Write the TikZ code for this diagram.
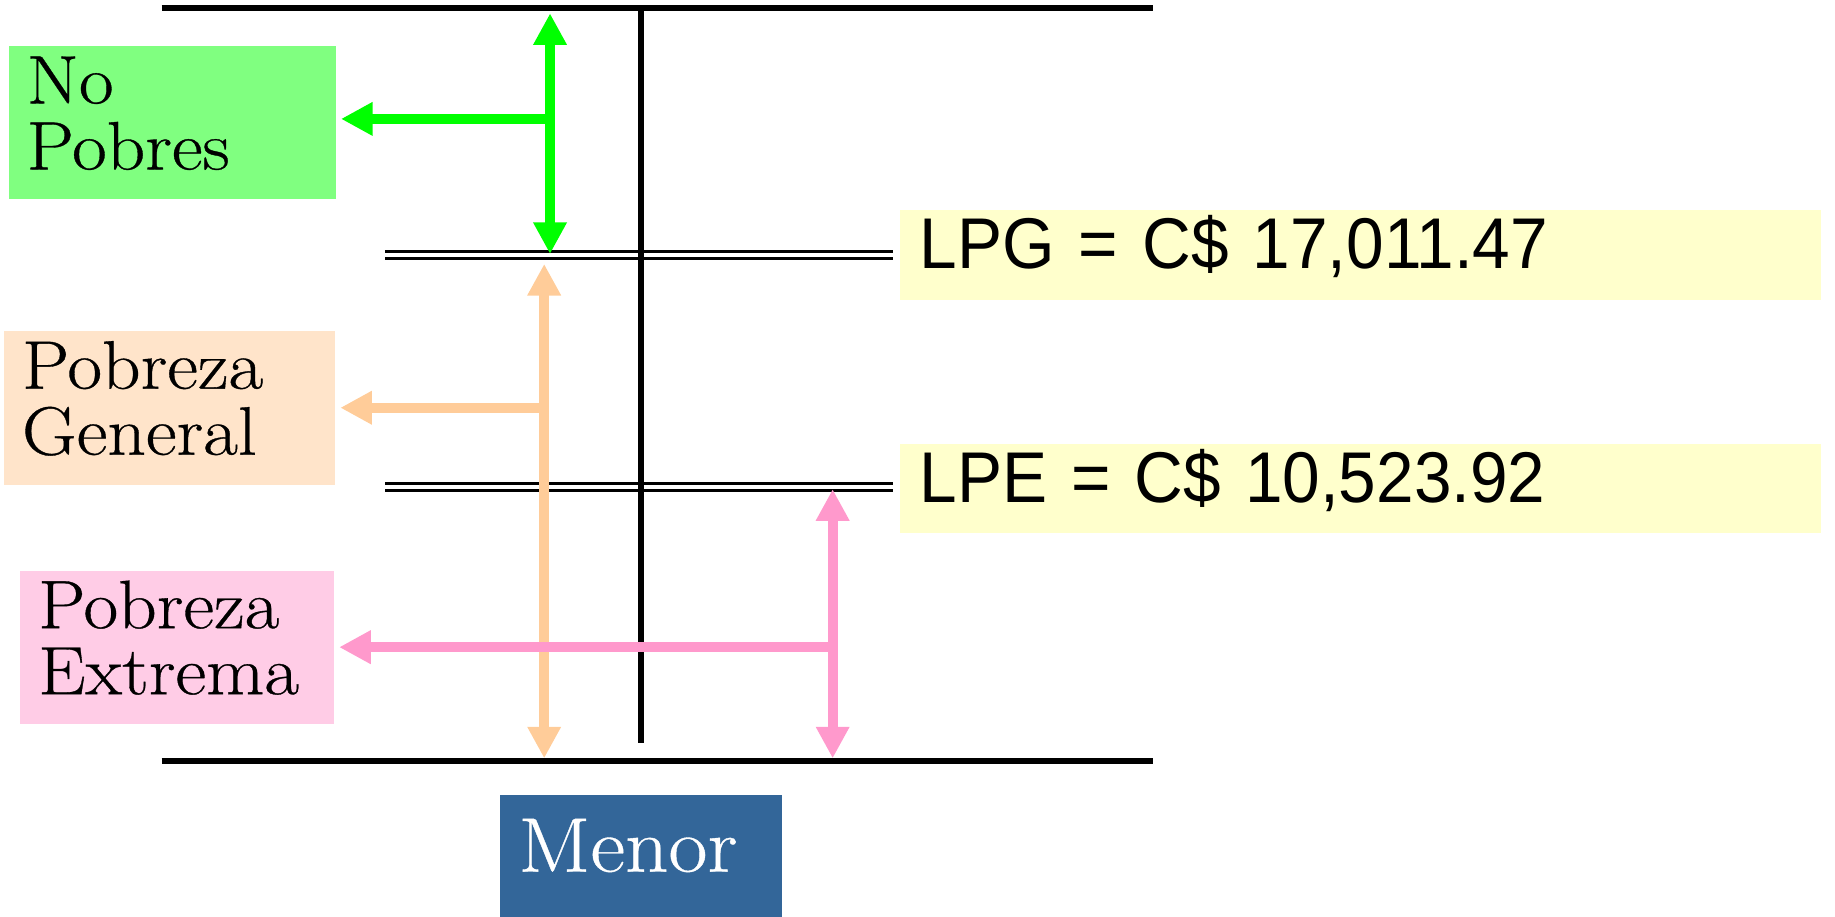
\documentclass[tikz,border=0pt]{standalone}
\usepackage{fontspec}
\setmainfont{Latin Modern Roman}[FakeStretch=1.1,FakeBold=0.5]
\newfontfamily\lpfont{Liberation Sans}[FakeStretch=0.94]
\usetikzlibrary{arrows.meta,calc}
\definecolor{gbox}{HTML}{80FF80}
\definecolor{garr}{HTML}{00FF00}
\definecolor{obox}{HTML}{FFE4CA}
\definecolor{oarr}{HTML}{FFCC99}
\definecolor{pbox}{HTML}{FFCCE6}
\definecolor{parr}{HTML}{FF99CC}
\definecolor{ybox}{HTML}{FFFFCC}
\definecolor{mbox}{HTML}{336699}
\tikzset{
  catbox/.style={anchor=north west, inner ysep=0pt, inner xsep=7.4pt, align=left,
    text height=24.5pt, text depth=41pt, font=\fontsize{29.3}{28.2}\selectfont},
  linebox/.style={anchor=north west, fill=ybox, inner ysep=0pt, inner xsep=8.4pt,
    text width=376.7pt, align=left, text height=25pt, text depth=13.3pt,
    font=\lpfont\fontsize{30.7}{34}\selectfont},
  blackline/.style={line width=2.5pt, black},
  dblline/.style={draw=black, line width=1.4pt, double=white, double distance=1.6pt},
  twoway/.style={line width=4.4pt, {Triangle[length=13.5pt,width=13.5pt]}-{Triangle[length=13.5pt,width=13.5pt]}},
  oneway/.style={line width=4.4pt, -{Triangle[length=13.5pt,width=13.5pt]}},
}
\begin{document}
\begin{tikzpicture}[x=0.5pt,y=-0.5pt]
\useasboundingbox (0,0) rectangle (1568,783);
% boxes
\node[catbox, fill=gbox, text width=124.7pt] (nb) at (7.6,39) {No\\Pobres};
\node[catbox, fill=obox, text width=126.3pt, inner xsep=7.5pt] (pg) at (3.4,282.7) {Pobreza\\General};
\node[catbox, fill=pbox, text width=118.8pt, inner xsep=7.6pt] (pe) at (17,487.4) {Pobreza\\Extrema};
\node[linebox] (lpg) at (768.8,179) {LPG = C\$ 17,011.47};
\node[linebox] (lpe) at (768.8,378.6) {LPE = C\$ 10,523.92};
\node[anchor=north west, fill=mbox, text=white, inner ysep=0pt, inner xsep=7.75pt,
  text width=105pt, align=left, text height=32.7pt, text depth=20pt,
  font=\fontsize{33}{36}\selectfont] (menor) at (427,679) {Menor};
% frame lines
\coordinate (tl) at (138,7);
\coordinate (tr) at (985,7);
\coordinate (bl) at (138,650);
\coordinate (br) at (985,650);
\coordinate (vt) at (548,7);
\coordinate (vb) at (548,635);
\coordinate (g1) at (329,218);
\coordinate (g2) at (763,218);
\coordinate (e1) at (329,416);
\coordinate (e2) at (763,416);
\draw[blackline] (tl) -- (tr);
\draw[blackline] (bl) -- (br);
\draw[dblline] (g1) -- (g2);
\draw[dblline] (e1) -- (e2);
\draw[blackline] (vt) -- (vb);
% arrows
\coordinate (oT) at (465,225.5);
\coordinate (oB) at (465,648);
\coordinate (oM) at (465,348.4);
\draw[oarr, twoway] (oT) -- (oB);
\draw[oarr, oneway] (oM) -- ($(oM -| pg.east)+(4,0)$);
\coordinate (pT) at (711.5,418);
\coordinate (pB) at (711.5,648);
\coordinate (pM) at (711.5,553);
\draw[parr, twoway] (pT) -- (pB);
\draw[parr, oneway] (pM) -- ($(pM -| pe.east)+(4,0)$);
\coordinate (gT) at (470,11.4);
\coordinate (gB) at (470,217);
\coordinate (gM) at (470,101.6);
\draw[garr, twoway] (gT) -- (gB);
\draw[garr, oneway] (gM) -- ($(gM -| nb.east)+(4,0)$);
\end{tikzpicture}
\end{document}
